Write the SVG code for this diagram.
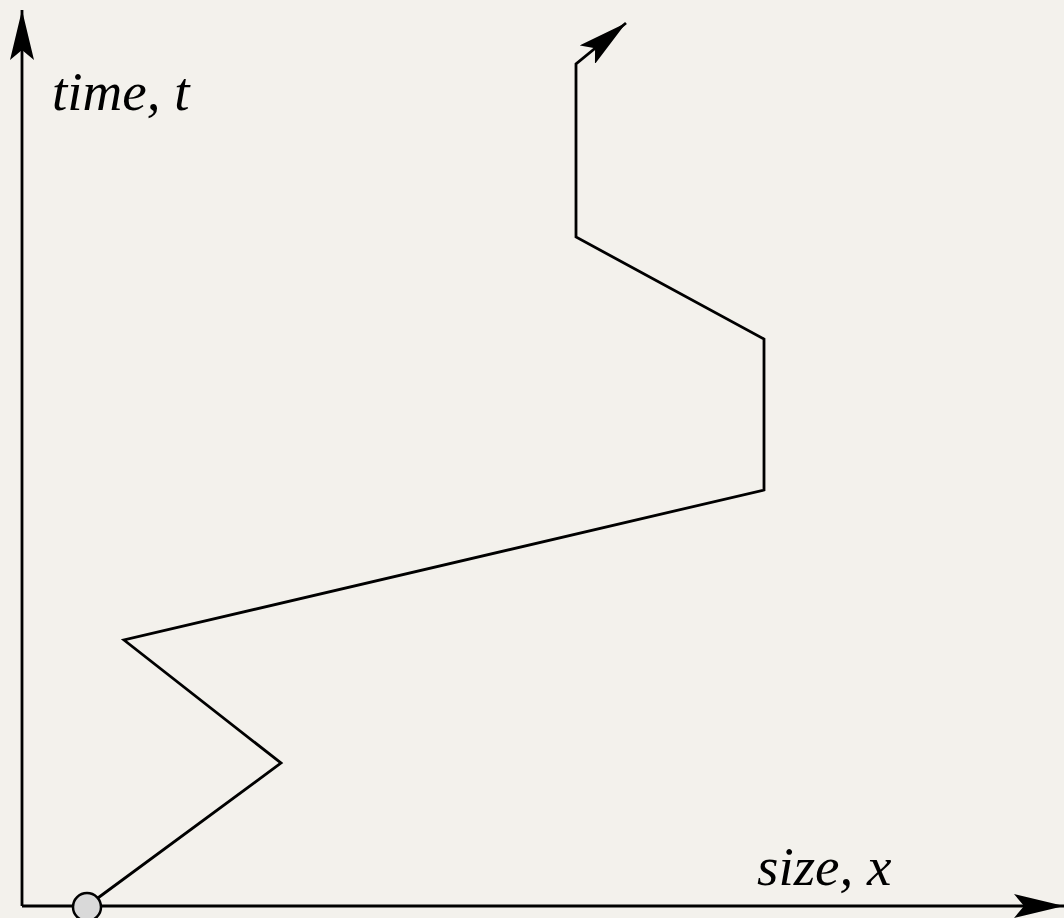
<svg xmlns="http://www.w3.org/2000/svg" width="1064" height="918" viewBox="0 0 1064 918">
<defs>
<marker id="ah" viewBox="0 0 50 24" refX="50" refY="12" markerWidth="50" markerHeight="24" markerUnits="userSpaceOnUse" orient="auto">
<path d="M0,0 L50,12 L0,24 L10,12 Z" fill="#000"/>
</marker>
<style>
.ln{fill:none;stroke:#000;stroke-width:2.8;stroke-linejoin:miter}
.lbl{font-family:"Liberation Serif","Times New Roman",serif;font-style:italic;font-size:55px;fill:#000}
</style>
</defs>
<rect width="1064" height="918" fill="#F3F1EC"/>
<g id="axes">
<line class="ln" x1="22" y1="906" x2="22" y2="10" marker-end="url(#ah)"/>
<line class="ln" x1="22" y1="906" x2="1064" y2="906" marker-end="url(#ah)"/>
</g>
<g id="connectors">
<polyline class="ln" points="87,906 281,763 124,640 764,490 764,339 576,237 576,64 626,23" marker-end="url(#ah)"/>
</g>
<g id="start">
<circle cx="87" cy="907" r="14" fill="#D9D9D9" stroke="#000" stroke-width="2.5"/>
</g>
<g id="labels">
<text class="lbl" x="52" y="110">time, t</text>
<text class="lbl" x="757" y="885">size, x</text>
</g>
</svg>
